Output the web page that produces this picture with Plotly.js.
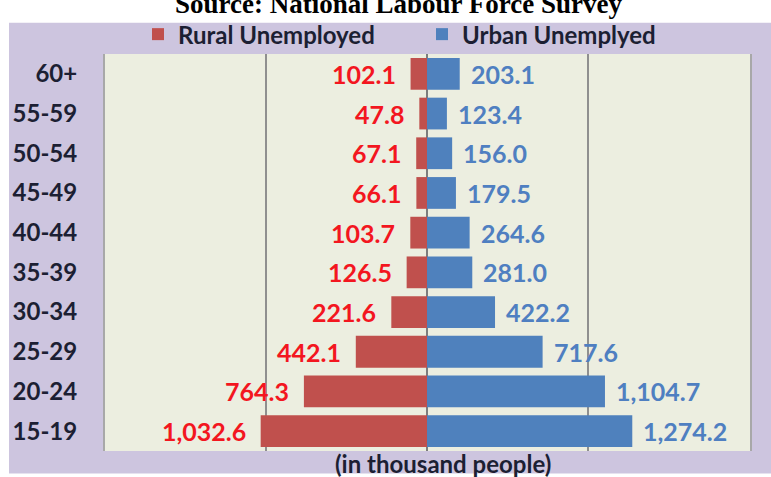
<!DOCTYPE html>
<html>
<head>
<meta charset="utf-8">
<script src="https://cdn.plot.ly/plotly-3.0.1.min.js"></script>
<style>html,body{margin:0;padding:0;background:#fff;}#chart{width:771px;height:477px;}</style>
</head>
<body>
<div id="chart"></div>
<script>
// Age groups, top to bottom as in the reference
var ageGroups = ['60+', '55-59', '50-54', '45-49', '40-44', '35-39', '30-34', '25-29', '20-24', '15-19'];
// Unemployed (thousand people)
var ruralUnemployed = [102.1, 47.8, 67.1, 66.1, 103.7, 126.5, 221.6, 442.1, 764.3, 1032.6];
var urbanUnemployed = [203.1, 123.4, 156.0, 179.5, 264.6, 281.0, 422.2, 717.6, 1104.7, 1274.2];
var seriesNames = ['Rural Unemployed', 'Urban Unemplyed'];
var titleText = 'Source: National Labour Force Survey';
var unitText = '(in thousand people)';

function fmt(v) {
  return v.toLocaleString('en-US', {minimumFractionDigits: 1, maximumFractionDigits: 1});
}

var W = 771, H = 477;
var M = {l: 105, r: 21, t: 43, b: 26};
var pw = W - M.l - M.r, ph = H - M.t - M.b;
function px(x) { return (x - M.l) / pw; }
function py(y) { return (H - M.b - y) / ph; }

var labelFont = {family: 'Lato', size: 25, weight: 'bold'};
var darkText = '#1c1f33';

var traces = [
  {
    type: 'bar', orientation: 'h', name: seriesNames[0],
    y: ageGroups, x: ruralUnemployed.map(function (v) { return -v; }),
    marker: {color: '#c0504d'}, hoverinfo: 'none'
  },
  {
    type: 'bar', orientation: 'h', name: seriesNames[1],
    y: ageGroups, x: urbanUnemployed,
    marker: {color: '#4f81bd'}, hoverinfo: 'none'
  }
];

var annotations = [];
ageGroups.forEach(function (g, i) {
  annotations.push({
    x: -ruralUnemployed[i], y: g, xref: 'x', yref: 'y',
    text: fmt(ruralUnemployed[i]), showarrow: false,
    xanchor: 'right', yanchor: 'middle', xshift: -13,
    font: Object.assign({color: '#f3161f'}, labelFont)
  });
  annotations.push({
    x: urbanUnemployed[i], y: g, xref: 'x', yref: 'y',
    text: fmt(urbanUnemployed[i]), showarrow: false,
    xanchor: 'left', yanchor: 'middle', xshift: 9,
    font: Object.assign({color: '#4f7fc1'}, labelFont)
  });
});
annotations.push({
  xref: 'paper', yref: 'paper', x: px(398), y: py(9),
  xanchor: 'center', yanchor: 'bottom', showarrow: false,
  text: titleText,
  font: {family: 'Liberation Serif', size: 27, color: '#000', weight: 'bold'}
});
annotations.push({
  xref: 'paper', yref: 'paper', x: px(443), y: py(464),
  xanchor: 'center', yanchor: 'middle', showarrow: false,
  text: unitText,
  font: {family: 'Lato', size: 24, color: darkText, weight: 'bold'}
});

var shapes = [
  {type: 'rect', xref: 'paper', yref: 'paper', layer: 'below', x0: -0.3, x1: 1.2, y0: py(11), y1: 1.3, fillcolor: '#ffffff', line: {width: 0}},
  {type: 'rect', xref: 'paper', yref: 'paper', layer: 'below', x0: -0.3, x1: px(9), y0: -0.3, y1: 1.3, fillcolor: '#ffffff', line: {width: 0}},
  {type: 'rect', xref: 'paper', yref: 'paper', layer: 'below', x0: -0.3, x1: 1.2, y0: -0.3, y1: py(474), fillcolor: '#ffffff', line: {width: 0}}
];

var layout = {
  width: W, height: H, autosize: false,
  margin: M,
  paper_bgcolor: '#cdc5df',
  plot_bgcolor: '#eceee0',
  barmode: 'relative',
  bargap: 0.2,
  showlegend: true,
  legend: {
    orientation: 'h', x: px(138), xanchor: 'left', y: py(23), yanchor: 'middle',
    bgcolor: 'rgba(0,0,0,0)',
    entrywidth: 239, entrywidthmode: 'pixels',
    font: {family: 'Lato', size: 24, color: darkText, weight: 'bold'},
    traceorder: 'normal'
  },
  xaxis: {
    range: [-1999, 2005], tick0: 0, dtick: 1000,
    showticklabels: false, ticks: '',
    showgrid: true, gridcolor: '#8f8f8f', gridwidth: 1.5,
    zeroline: true, zerolinecolor: '#7d7d7d', zerolinewidth: 1.5,
    showline: false, fixedrange: true
  },
  yaxis: {
    type: 'category', autorange: 'reversed',
    tickfont: {family: 'Lato', size: 24, color: darkText, weight: 'bold'},
    ticks: 'outside', ticklen: 21, tickcolor: 'rgba(0,0,0,0)',
    showline: true, mirror: true, linecolor: '#a8a8a8', linewidth: 2,
    showgrid: false, zeroline: false, fixedrange: true
  },
  annotations: annotations,
  shapes: shapes
};

Plotly.newPlot('chart', traces, layout, {displayModeBar: false, staticPlot: true});
</script>
</body>
</html>
